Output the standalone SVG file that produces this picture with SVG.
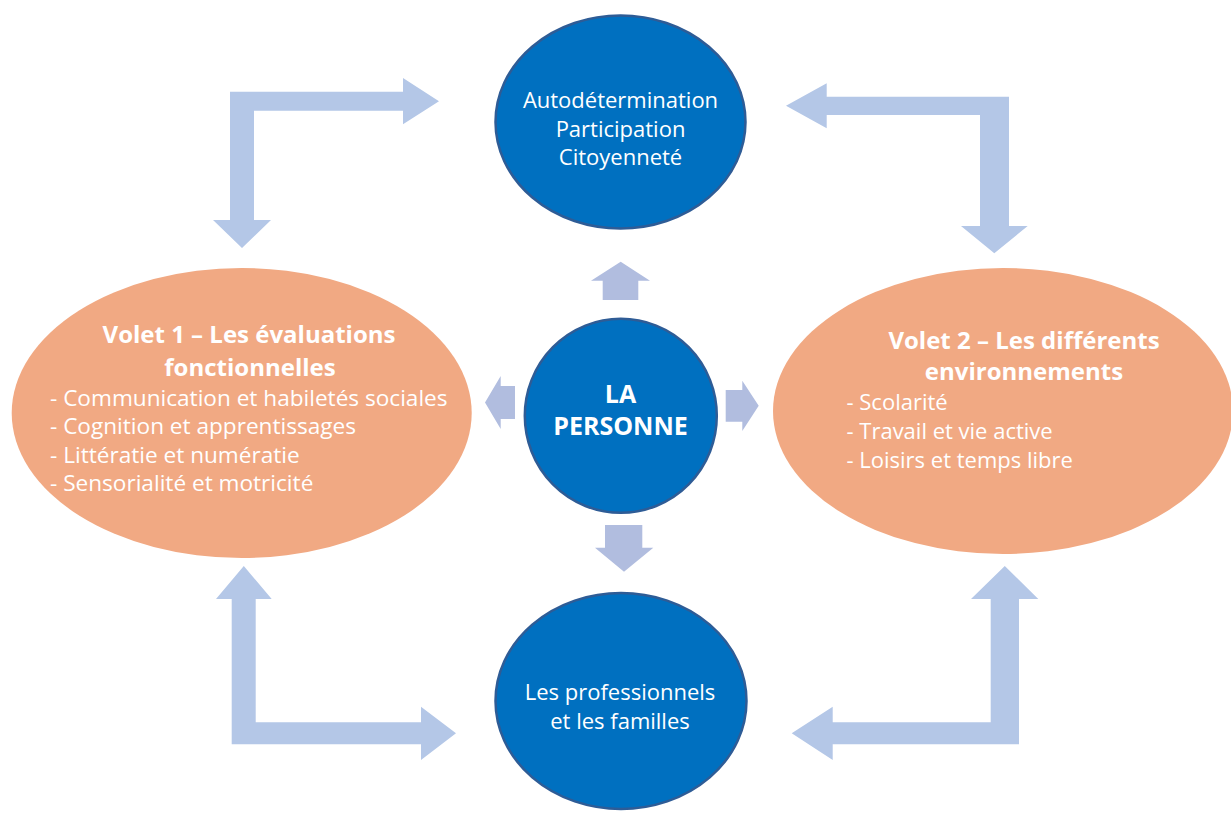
<svg xmlns="http://www.w3.org/2000/svg" width="1231" height="814" viewBox="0 0 1231 814">
<style>
.blue{fill:#0070C0;stroke:#2E5C96;stroke-width:2.5}
.orange{fill:#F1A983}
.arr{fill:#B4C7E7}
.carr{fill:#B1BDDF}
text{font-family:"Open Sans","Noto Sans","Liberation Sans",sans-serif;fill:#FFFFFF}
.t{font-size:22px}
.tl{font-size:22.6px}
.mid{text-anchor:middle}
.b{font-weight:bold;font-size:24px}
</style>
<rect width="1231" height="814" fill="#FFFFFF"/>
<g id="volet1">
<ellipse class="orange" cx="241.7" cy="413" rx="230" ry="145"/>
<text class="b mid" x="249" y="343">Volet 1 – Les évaluations</text>
<text class="b mid" x="250" y="376">fonctionnelles</text>
<text class="tl" x="50" y="405.5">- Communication et habiletés sociales</text>
<text class="tl" x="50" y="434">- Cognition et apprentissages</text>
<text class="tl" x="50" y="462.5">- Littératie et numératie</text>
<text class="tl" x="50" y="491">- Sensorialité et motricité</text>
</g>
<g id="volet2">
<ellipse class="orange" cx="1003" cy="411" rx="230" ry="143"/>
<text class="b mid" x="1024" y="349">Volet 2 – Les différents</text>
<text class="b mid" x="1024" y="380">environnements</text>
<text class="t" x="846.5" y="409.5">- Scolarité</text>
<text class="t" x="846.5" y="438.5">- Travail et vie active</text>
<text class="t" x="846.5" y="467.5">- Loisirs et temps libre</text>
</g>
<g id="autodetermination">
<ellipse class="blue" cx="620.5" cy="122" rx="125" ry="106.5"/>
<text class="t mid" x="620.5" y="108">Autodétermination</text>
<text class="t mid" x="620.5" y="136.5">Participation</text>
<text class="t mid" x="620.5" y="165">Citoyenneté</text>
</g>
<g id="personne">
<ellipse class="blue" cx="620.8" cy="415.8" rx="96" ry="97"/>
<text class="mid" x="620.5" y="403" style="font-weight:bold;font-size:25px">LA</text>
<text class="mid" x="620.5" y="435" style="font-weight:bold;font-size:25px">PERSONNE</text>
</g>
<g id="professionnels">
<ellipse class="blue" cx="621" cy="701" rx="125.5" ry="108"/>
<text class="t mid" x="620" y="700">Les professionnels</text>
<text class="t mid" x="620" y="728.5">et les familles</text>
</g>
<g id="connectors">
<polygon class="arr" points="242,248 271,220 254,220 254,110.7 403,110.7 403,124.3 439,101.2 403,78 403,91.7 230,91.7 230,220 213,220"/>
<polygon class="arr" points="786,105.7 826.7,83.3 826.7,96.7 1009,96.7 1009,226 1027.7,226 994.3,253.3 961,226 980,226 980,115 826.7,115 826.7,128.3"/>
<polygon class="arr" points="243.8,566 271.7,599 255.7,599 255.7,722.3 421,722.3 421,706.7 456,733.3 421,760 421,744.3 231.7,744.3 231.7,599 216,599"/>
<polygon class="arr" points="1004.8,566 1038.3,599 1019,599 1019,744.3 832.7,744.3 832.7,760 791.7,733.3 832.7,706.7 832.7,722.3 990.7,722.3 990.7,599 971,599"/>
<polygon class="carr" points="620.7,261.7 650,280.7 638.3,280.7 638.3,300 602.7,300 602.7,280.7 591,280.7"/>
<polygon class="carr" points="485,402.5 500.7,376 500.7,386 515,386 515,419 500.7,419 500.7,429"/>
<polygon class="carr" points="758.7,405.7 742.3,431 742.3,421.7 725.7,421.7 725.7,390 742.3,390 742.3,380.7"/>
<polygon class="carr" points="624,571.7 595,547.7 605,547.7 605,525 642.3,525 642.3,547.7 653.3,547.7"/>
</g>
</svg>
